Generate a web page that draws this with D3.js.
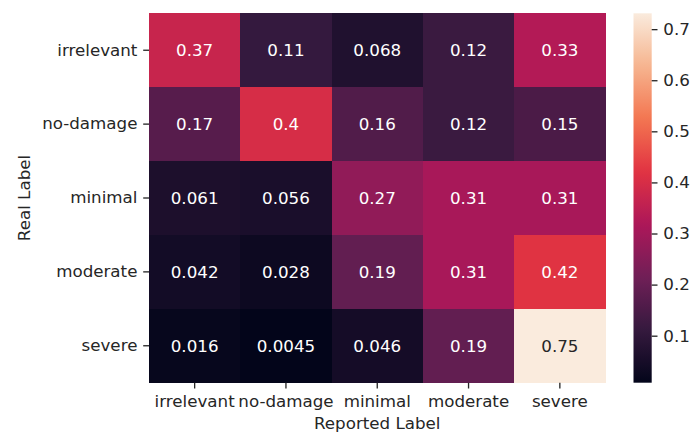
<!DOCTYPE html>
<html>
<head>
<meta charset="utf-8">
<script src="https://cdnjs.cloudflare.com/ajax/libs/d3/7.8.5/d3.min.js"></script>
<style>
  body { margin: 0; background: #fff; }
  svg text { font-family: "DejaVu Sans", sans-serif; fill: #262626; }
</style>
</head>
<body>
<div id="chart"></div>
<script>
var realLabels = ["irrelevant", "no-damage", "minimal", "moderate", "severe"];
var reportedLabels = ["irrelevant", "no-damage", "minimal", "moderate", "severe"];
var values = [
	[0.37, 0.11, 0.068, 0.12, 0.33],
	[0.17, 0.4, 0.16, 0.12, 0.15],
	[0.061, 0.056, 0.27, 0.31, 0.31],
	[0.042, 0.028, 0.19, 0.31, 0.42],
	[0.016, 0.0045, 0.046, 0.19, 0.75]
];
var valueLabels = [
	["0.37", "0.11", "0.068", "0.12", "0.33"],
	["0.17", "0.4", "0.16", "0.12", "0.15"],
	["0.061", "0.056", "0.27", "0.31", "0.31"],
	["0.042", "0.028", "0.19", "0.31", "0.42"],
	["0.016", "0.0045", "0.046", "0.19", "0.75"]
];
var colorTicks = [0.1, 0.2, 0.3, 0.4, 0.5, 0.6, 0.7];
var colorDomain = [0.008, 0.731];

// rocket colormap stops
var rocket = ["#03051a", "#35193e", "#701f57", "#ad1759", "#e13342", "#f37651", "#f6b48f", "#faebdd"];
var rocketInterp = d3.piecewise(d3.interpolateRgb, rocket);

var W = 690, H = 434;
var fontSize = 16.7, tickLen = 5.8, pad = 5.8;
var mLeft = 149, mRight = 605.5, mTop = 13.3, mBottom = 382.7;

var svg = d3.select("#chart").append("svg")
	.attr("width", W)
	.attr("height", H);

var x = d3.scaleBand().domain(reportedLabels).range([mLeft, mRight]);
var y = d3.scaleBand().domain(realLabels).range([mTop, mBottom]);
var color = d3.scaleSequential(rocketInterp).domain(colorDomain).clamp(true);

var cells = [];
values.forEach(function(row, i) {
	row.forEach(function(v, j) {
		cells.push({ r: realLabels[i], c: reportedLabels[j], v: v, t: valueLabels[i][j] });
	});
});

var g = svg.append("g");
g.selectAll("rect.cell").data(cells).enter().append("rect")
	.attr("class", "cell")
	.attr("x", function(d) { return x(d.c); })
	.attr("y", function(d) { return y(d.r); })
	.attr("width", x.bandwidth() + 0.6)
	.attr("height", y.bandwidth() + 0.6)
	.attr("shape-rendering", "crispEdges")
	.attr("fill", function(d) { return color(d.v); });

g.selectAll("text.ann").data(cells).enter().append("text")
	.attr("class", "ann")
	.attr("x", function(d) { return x(d.c) + x.bandwidth() / 2; })
	.attr("y", function(d) { return y(d.r) + y.bandwidth() / 2; })
	.attr("text-anchor", "middle")
	.attr("dominant-baseline", "central")
	.style("font-size", fontSize + "px")
	.style("fill", function(d) {
		var c = d3.color(color(d.v));
		var lum = 0.2126 * c.r + 0.7152 * c.g + 0.0722 * c.b;
		return lum > 104 ? "#262626" : "#ffffff";
	})
	.text(function(d) { return d.t; });

// x axis
var xAxis = svg.append("g")
	.attr("transform", "translate(0," + mBottom + ")")
	.call(d3.axisBottom(x).tickSize(tickLen).tickPadding(pad));
// y axis
var yAxis = svg.append("g")
	.attr("transform", "translate(" + mLeft + ",0)")
	.call(d3.axisLeft(y).tickSize(tickLen).tickPadding(pad));

[xAxis, yAxis].forEach(function(ax) {
	ax.select(".domain").remove();
	ax.selectAll(".tick line").attr("stroke", "#262626").attr("stroke-width", 1.33);
	ax.selectAll(".tick text").style("font-size", fontSize + "px").attr("fill", "#262626")
		.style("font-family", "DejaVu Sans, sans-serif");
});
xAxis.selectAll(".tick text").attr("dy", "0.76em");

svg.append("text")
	.attr("x", (mLeft + mRight) / 2)
	.attr("y", 429)
	.attr("text-anchor", "middle")
	.style("font-size", fontSize + "px")
	.text("Reported Label");

svg.append("text")
	.attr("transform", "translate(30," + (mTop + mBottom) / 2 + ") rotate(-90)")
	.attr("text-anchor", "middle")
	.style("font-size", fontSize + "px")
	.text("Real Label");

// colorbar
var cbLeft = 633.5, cbWidth = 18.2;
var cy = d3.scaleLinear().domain(colorDomain).range([mBottom, mTop]);

var defs = svg.append("defs");
var grad = defs.append("linearGradient")
	.attr("id", "cbgrad")
	.attr("x1", "0").attr("y1", "1").attr("x2", "0").attr("y2", "0");
d3.range(0, 1.0001, 0.02).forEach(function(t) {
	grad.append("stop")
		.attr("offset", t)
		.attr("stop-color", rocketInterp(t));
});

svg.append("rect")
	.attr("x", cbLeft)
	.attr("y", mTop)
	.attr("width", cbWidth)
	.attr("height", mBottom - mTop)
	.attr("fill", "url(#cbgrad)");

var cAxis = svg.append("g")
	.attr("transform", "translate(" + (cbLeft + cbWidth) + ",0)")
	.call(d3.axisRight(cy).tickValues(colorTicks).tickFormat(d3.format(".1f")).tickSize(tickLen).tickPadding(pad));
cAxis.select(".domain").remove();
cAxis.selectAll(".tick line").attr("stroke", "#262626").attr("stroke-width", 1.33);
cAxis.selectAll(".tick text").style("font-size", fontSize + "px").attr("fill", "#262626")
	.style("font-family", "DejaVu Sans, sans-serif");
</script>
</body>
</html>
